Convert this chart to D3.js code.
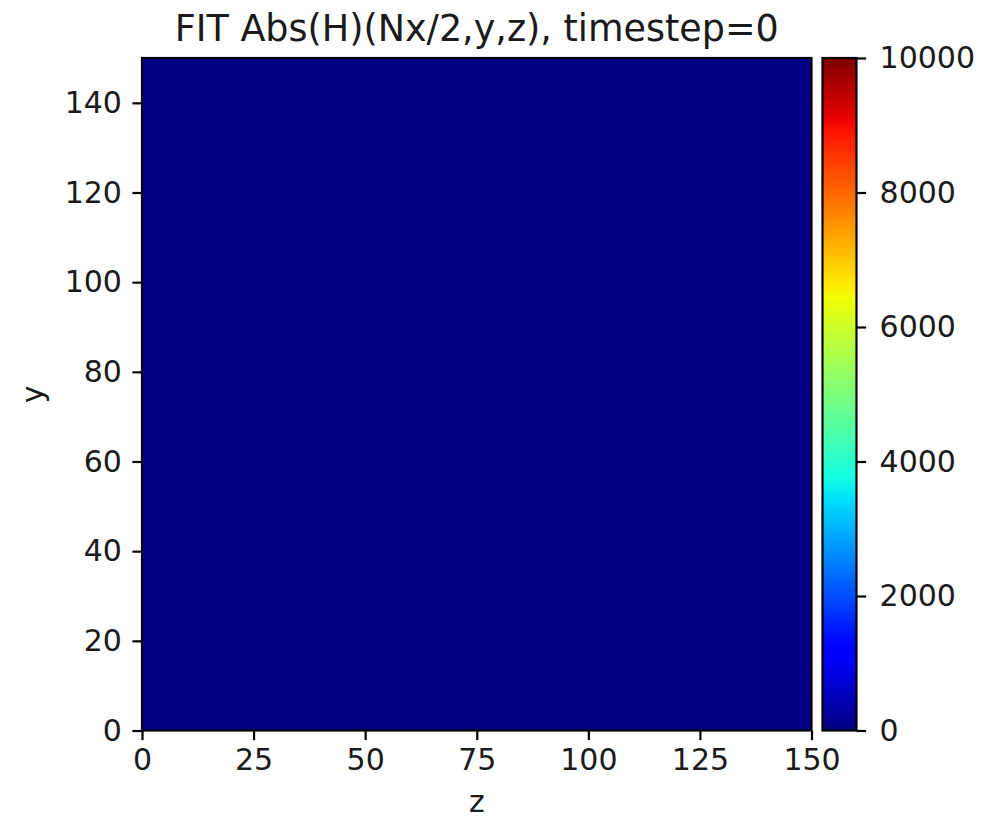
<!DOCTYPE html>
<html>
<head>
<meta charset="utf-8">
<script src="https://cdn.jsdelivr.net/npm/d3@7"></script>
<style>
  html, body { margin: 0; padding: 0; background: #fff; }
  svg { display: block; font-family: "DejaVu Sans", sans-serif; }
</style>
</head>
<body>
<svg id="chart" width="991" height="819"></svg>
<script>
// Field |H| on the plane x = Nx/2, sampled on a 150 x 150 (y, z) grid at timestep 0
const gridNy = 150;
const gridNz = 150;
const fieldRow = new Array(gridNz).fill(0);          // every cell is 0 at timestep 0
const fieldValues = new Array(gridNy).fill(fieldRow);

const xTicks = [0, 25, 50, 75, 100, 125, 150];
const yTicks = [0, 20, 40, 60, 80, 100, 120, 140];
const cbarTicks = [0, 2000, 4000, 6000, 8000, 10000];
const colorDomain = [0, 10000];
const titleText = "FIT Abs(H)(Nx/2,y,z), timestep=0";
const xLabelText = "z";
const yLabelText = "y";

// matplotlib "jet" colormap
function jet(t) {
  t = Math.max(0, Math.min(1, t));
  function seg(pts) {
    for (let i = 1; i < pts.length; i++) {
      if (t <= pts[i][0]) {
        const [x0, y0] = pts[i - 1], [x1, y1] = pts[i];
        return y0 + (y1 - y0) * (t - x0) / (x1 - x0);
      }
    }
    return pts[pts.length - 1][1];
  }
  const r = seg([[0, 0], [0.35, 0], [0.66, 1], [0.89, 1], [1, 0.5]]);
  const g = seg([[0, 0], [0.125, 0], [0.375, 1], [0.64, 1], [0.91, 0], [1, 0]]);
  const b = seg([[0, 0.5], [0.11, 1], [0.34, 1], [0.65, 0], [1, 0]]);
  return d3.rgb(Math.round(r * 255), Math.round(g * 255), Math.round(b * 255));
}

const svg = d3.select("#chart");
const plot = { left: 142, right: 811.5, top: 58, bottom: 730.5 };
const cbar = { left: 822.5, right: 856.5, top: 58, bottom: 730.5 };

const tickFont = 30;
const tickLen = 9.6;
const tickPad = 10.5;
const lineW = 2.2;

const x = d3.scaleLinear().domain([0, gridNz]).range([plot.left, plot.right]);
const y = d3.scaleLinear().domain([0, gridNy]).range([plot.bottom, plot.top]);
const color = d3.scaleLinear().domain(colorDomain).range([0, 1]);

// Heatmap rendered into an offscreen canvas, one pixel per cell
const canvas = document.createElement("canvas");
canvas.width = gridNz;
canvas.height = gridNy;
const ctx = canvas.getContext("2d");
const img = ctx.createImageData(gridNz, gridNy);
fieldValues.forEach((row, j) => {
  row.forEach((v, i) => {
    const c = jet(color(v));
    const k = ((gridNy - 1 - j) * gridNz + i) * 4;  // origin at bottom
    img.data[k] = c.r; img.data[k + 1] = c.g; img.data[k + 2] = c.b; img.data[k + 3] = 255;
  });
});
ctx.putImageData(img, 0, 0);

svg.append("image")
  .attr("x", x(0)).attr("y", y(gridNy))
  .attr("width", x(gridNz) - x(0)).attr("height", y(0) - y(gridNy))
  .attr("preserveAspectRatio", "none")
  .style("image-rendering", "pixelated")
  .attr("href", canvas.toDataURL());

// Axes frame
svg.append("rect")
  .attr("x", plot.left).attr("y", plot.top)
  .attr("width", plot.right - plot.left).attr("height", plot.bottom - plot.top)
  .attr("fill", "none").attr("stroke", "#000").attr("stroke-width", lineW);

function styleAxis(g) {
  g.select(".domain").remove();
  g.selectAll(".tick line").attr("stroke", "#000").attr("stroke-width", lineW);
  g.selectAll(".tick text").attr("fill", "#1a1a1a")
    .style("font-size", tickFont + "px").style("font-family", "DejaVu Sans, sans-serif");
}

svg.append("g")
  .attr("transform", `translate(0,${plot.bottom})`)
  .call(d3.axisBottom(x).tickValues(xTicks).tickSize(tickLen).tickPadding(tickPad - 2).tickFormat(d3.format("d")))
  .call(styleAxis);

svg.append("g")
  .attr("transform", `translate(${plot.left},0)`)
  .call(d3.axisLeft(y).tickValues(yTicks).tickSize(tickLen).tickPadding(tickPad).tickFormat(d3.format("d")))
  .call(styleAxis);

// Colorbar
const cy = d3.scaleLinear().domain(colorDomain).range([cbar.bottom, cbar.top]);
const defs = svg.append("defs");
const grad = defs.append("linearGradient").attr("id", "jetGrad")
  .attr("x1", 0).attr("y1", 1).attr("x2", 0).attr("y2", 0);
d3.range(0, 101).forEach(i => {
  const t = i / 100;
  grad.append("stop").attr("offset", t).attr("stop-color", jet(t).formatHex());
});
svg.append("rect")
  .attr("x", cbar.left).attr("y", cbar.top)
  .attr("width", cbar.right - cbar.left).attr("height", cbar.bottom - cbar.top)
  .attr("fill", "url(#jetGrad)")
  .attr("stroke", "#000").attr("stroke-width", lineW);

svg.append("g")
  .attr("transform", `translate(${cbar.right},0)`)
  .call(d3.axisRight(cy).tickValues(cbarTicks).tickSize(tickLen).tickPadding(tickPad + 3).tickFormat(d3.format("d")))
  .call(styleAxis);

// Title and axis labels
svg.append("text")
  .attr("x", (plot.left + plot.right) / 2).attr("y", 41)
  .attr("text-anchor", "middle")
  .attr("fill", "#1a1a1a")
  .style("font-size", "36.5px")
  .text(titleText);

svg.append("text")
  .attr("x", (plot.left + plot.right) / 2).attr("y", 812)
  .attr("text-anchor", "middle")
  .attr("fill", "#1a1a1a")
  .style("font-size", tickFont + "px")
  .text(xLabelText);

svg.append("text")
  .attr("transform", `translate(43,${(plot.top + plot.bottom) / 2}) rotate(-90)`)
  .attr("text-anchor", "middle")
  .attr("fill", "#1a1a1a")
  .style("font-size", tickFont + "px")
  .text(yLabelText);
</script>
</body>
</html>
